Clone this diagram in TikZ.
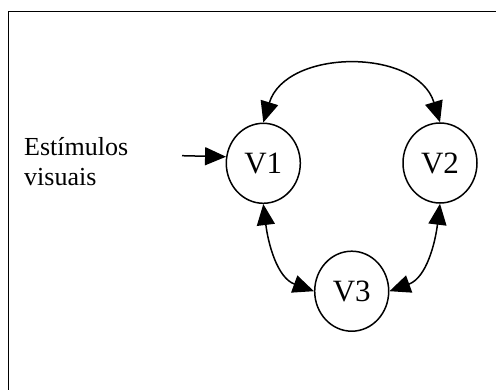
\documentclass[tikz,border=0pt]{standalone}
\usepackage{fontspec}
\setmainfont{Liberation Serif}
\usetikzlibrary{arrows.meta,shapes.geometric}
\begin{document}
\begin{tikzpicture}[x=1pt,y=1pt,
  vnode/.style={draw,ellipse,minimum width=74pt,minimum height=80pt,inner sep=0pt,line width=1.5pt,
    font=\fontsize{31}{31}\selectfont},
  conn/.style={line width=1.5pt,{Triangle[length=21pt,width=18pt]}-{Triangle[length=21pt,width=18pt]}},
  inarrow/.style={line width=1.5pt,-{Triangle[length=21pt,width=18pt]}}]
\useasboundingbox (0,0) rectangle (496,389);
\fill[white] (0,0) rectangle (496,389);
\draw[line width=1.8pt] (8.5,-5) -- (8.5,377.5) -- (505,377.5);
\node[vnode] (v1) at (263.3,225.7) {V1};
\node[vnode] (v2) at (440,226) {V2};
\node[vnode] (v3) at (351.7,97.8) {V3};
\node[anchor=base west,align=left,inner sep=0pt,font=\fontsize{26}{30}\selectfont] (lbl) at (24,204) {Estímulos\\visuais};
\coordinate (in) at (182,233.3);
\draw[inarrow] (in) -- (v1.170);
\draw[conn] (v1.north) to[out=73,in=107,looseness=1.13] (v2.north);
\draw[conn] (v1.south) to[out=-83,in=160] (v3.west);
\draw[conn] (v2.south) to[out=-97,in=20] (v3.east);
\end{tikzpicture}
\end{document}
